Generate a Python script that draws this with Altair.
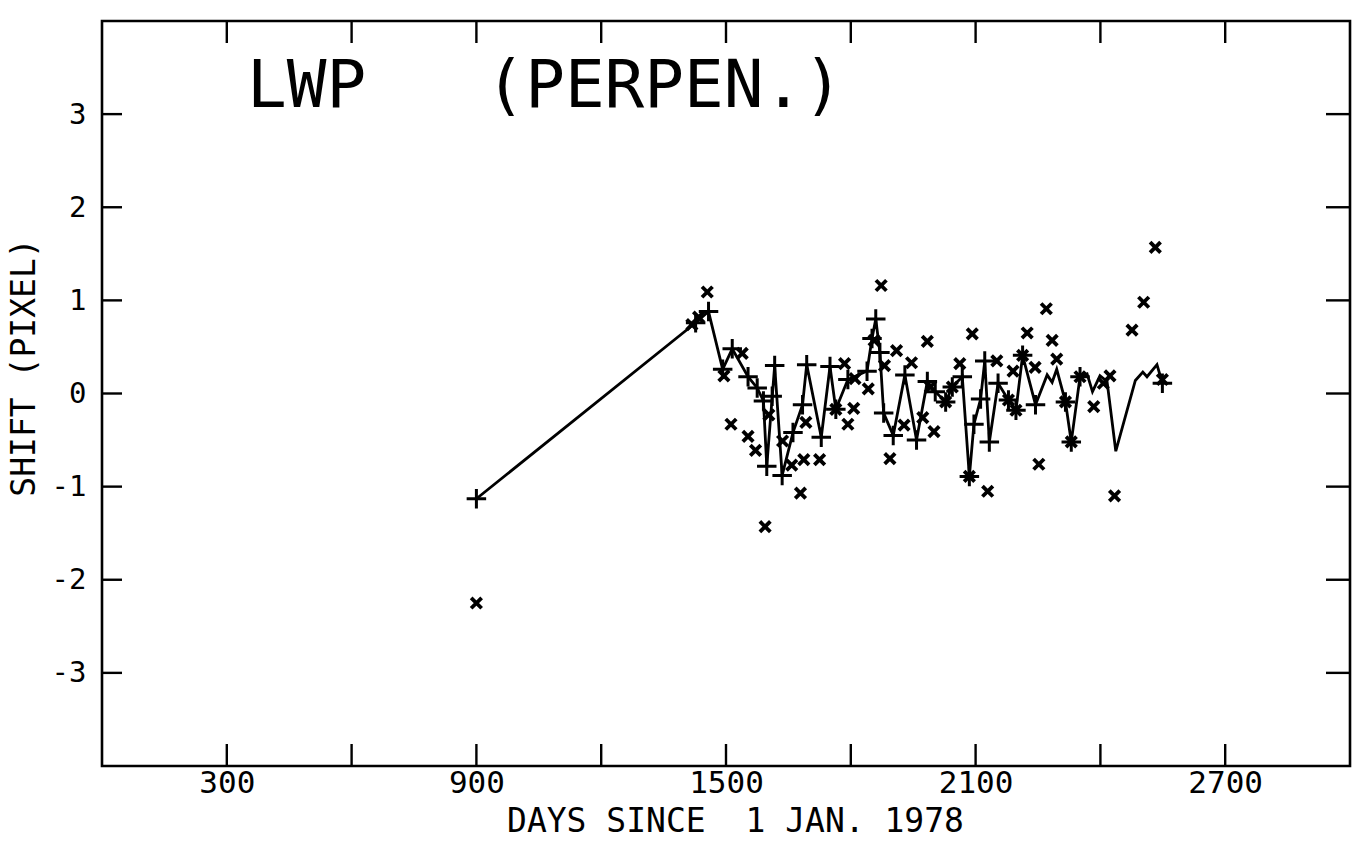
import altair as alt
import pandas as pd

# ---- data ----
line_days = [900, 1427, 1458, 1492, 1515, 1553, 1575, 1590, 1598, 1617, 1635, 1661,
             1684, 1694, 1729, 1750, 1764, 1793, 1839, 1851, 1860, 1870, 1879, 1902,
             1930, 1958, 1984, 2003, 2028, 2044, 2068, 2085, 2096, 2112, 2122, 2133,
             2154, 2179, 2197, 2213, 2244, 2272, 2284, 2295, 2316, 2330, 2351, 2368,
             2381, 2399, 2416, 2437, 2484, 2502, 2512, 2536, 2549]
line_vals = [-1.13, 0.76, 0.88, 0.26, 0.48, 0.18, 0.06, -0.08, -0.78, 0.30, -0.88, -0.42,
             -0.12, 0.31, -0.47, 0.29, -0.17, 0.15, 0.24, 0.59, 0.80, 0.44, -0.21, -0.45,
             0.20, -0.50, 0.13, 0.02, -0.09, 0.07, 0.18, -0.89, -0.33, -0.06, 0.35, -0.52,
             0.11, -0.07, -0.18, 0.41, -0.12, 0.20, 0.12, 0.26, -0.09, -0.52, 0.18, 0.21,
             0.02, 0.19, 0.13, -0.62, 0.14, 0.23, 0.18, 0.31, 0.11]

plus_days = [900, 1427, 1458, 1492, 1515, 1553, 1575, 1590, 1598, 1611, 1617, 1635,
             1661, 1684, 1694, 1729, 1750, 1764, 1793, 1839, 1851, 1860, 1870, 1879,
             1902, 1930, 1958, 1984, 2003, 2028, 2044, 2068, 2085, 2096, 2112, 2122,
             2133, 2154, 2179, 2197, 2213, 2244, 2316, 2330, 2351, 2549]
plus_vals = [-1.13, 0.76, 0.88, 0.26, 0.48, 0.18, 0.06, -0.08, -0.78, -0.03, 0.30, -0.88,
             -0.42, -0.12, 0.31, -0.47, 0.29, -0.17, 0.15, 0.24, 0.59, 0.80, 0.44, -0.21,
             -0.45, 0.20, -0.50, 0.13, 0.02, -0.09, 0.07, 0.18, -0.89, -0.33, -0.06, 0.35,
             -0.52, 0.11, -0.07, -0.18, 0.41, -0.12, -0.09, -0.52, 0.18, 0.11]

cross_days = [900, 1418, 1434, 1455, 1495, 1539, 1512, 1553, 1571, 1594,
              1603, 1636, 1658, 1687, 1679, 1692, 1725, 1785, 1807, 1793,
              1764, 1810, 1842, 1873, 1910, 1881, 1894, 1984, 1946, 1928,
              1973, 2000, 1856, 1991, 2062, 2092, 2085, 2129, 2151, 2190,
              2213, 2224, 2243, 2252, 2270, 2284, 2295, 2316, 2330, 2351,
              2384, 2407, 2423, 2434, 2476, 2504, 2532, 2549, 2044, 2028,
              2197, 2179]
cross_vals = [-2.25, 0.74, 0.82, 1.09, 0.19, 0.43, -0.33, -0.46, -0.61, -1.43,
              -0.23, -0.51, -0.77, -0.71, -1.07, -0.31, -0.71, 0.32, -0.16, -0.33,
              -0.17, 0.16, 0.05, 1.16, 0.46, 0.30, -0.70, 0.56, 0.33, -0.34,
              -0.26, -0.41, 0.57, 0.07, 0.32, 0.64, -0.89, -1.05, 0.35, 0.24,
              0.41, 0.65, 0.28, -0.76, 0.91, 0.57, 0.37, -0.09, -0.52, 0.18,
              -0.14, 0.11, 0.19, -1.10, 0.68, 0.98, 1.57, 0.15, 0.07, -0.09,
              -0.18, -0.07]

x_tick_days = [300, 600, 900, 1200, 1500, 1800, 2100, 2400, 2700]
x_label_days = [300, 900, 1500, 2100, 2700]
y_tick_vals = [-3, -2, -1, 0, 1, 2, 3]

title_text = "LWP\u00a0\u00a0 (PERPEN.)"
x_title = "DAYS SINCE\u00a0 1 JAN. 1978"
y_title = "SHIFT (PIXEL)"

# ---- chart ----
W, H = 1248, 745
FONT = "DejaVu Sans Mono"

xs = alt.Scale(domain=[0, 3000], nice=False, zero=False)
ys = alt.Scale(domain=[-4, 4], nice=False, zero=False)

line_df = pd.DataFrame({"day": line_days, "shift": line_vals})
plus_df = pd.DataFrame({"day": plus_days, "shift": plus_vals})
cross_df = pd.DataFrame({"day": cross_days, "shift": cross_vals})
xt_df = pd.DataFrame({"day": x_tick_days})
yt_df = pd.DataFrame({"shift": y_tick_vals})

x_axis = alt.Axis(values=x_label_days, title=x_title, ticks=False, domain=False, grid=False,
                  labelFont=FONT, labelFontSize=31, labelPadding=2, labelColor="black",
                  labelExpr="'' + datum.value",
                  titleFont=FONT, titleFontSize=33, titleFontWeight="normal",
                  titleColor="black", titlePadding=7, titleX=633)
y_axis = alt.Axis(values=y_tick_vals, title=y_title, ticks=False, domain=False, grid=False,
                  labelFont=FONT, labelFontSize=29, labelPadding=16, labelColor="black",
                  labelExpr="'' + datum.value",
                  titleFont=FONT, titleFontSize=33, titleFontWeight="normal",
                  titleColor="black", titlePadding=10, titleY=346)

X = alt.X("day:Q", scale=xs, axis=x_axis, title=x_title)
Y = alt.Y("shift:Q", scale=ys, axis=y_axis, title=y_title)

line = alt.Chart(line_df).mark_line(color="black", strokeWidth=2.8).encode(
    x=X, y=Y, order="day:Q")

plus = alt.Chart(plus_df).mark_point(
    shape="M-1,0L1,0M0,-1L0,1", size=380, filled=False, color="black",
    strokeWidth=3, opacity=1,
).encode(x=X, y=Y)

cross = alt.Chart(cross_df).mark_point(
    shape="M-1,-1L1,1M-1,1L1,-1", size=110, filled=False, color="black",
    strokeWidth=3.8, opacity=1,
).encode(x=X, y=Y)

tick_bottom = alt.Chart(xt_df).mark_rule(color="black", strokeWidth=2.4).encode(
    x=X, y=alt.value(H), y2=alt.value(H - 22))
tick_top = alt.Chart(xt_df).mark_rule(color="black", strokeWidth=2.4).encode(
    x=X, y=alt.value(0), y2=alt.value(22))
tick_left = alt.Chart(yt_df).mark_rule(color="black", strokeWidth=2.4).encode(
    y=Y, x=alt.value(0), x2=alt.value(20))
tick_right = alt.Chart(yt_df).mark_rule(color="black", strokeWidth=2.4).encode(
    y=Y, x=alt.value(W), x2=alt.value(W - 24))

title = alt.Chart(pd.DataFrame({"t": [title_text]})).mark_text(
    align="left", baseline="alphabetic", font=FONT, fontSize=66, color="black",
    fontWeight="normal",
).encode(x=alt.value(145), y=alt.value(86), text="t:N")

chart = alt.layer(line, plus, cross, tick_bottom, tick_top, tick_left, tick_right, title).properties(
    width=W, height=H,
    padding={"left": 102, "top": 21, "right": 8, "bottom": 86},
    autosize=alt.AutoSizeParams(type="none"),
    background="white",
).configure_view(stroke="black", strokeWidth=2.6)

chart.save("out.html", embed_options={"renderer": "svg", "actions": False})
